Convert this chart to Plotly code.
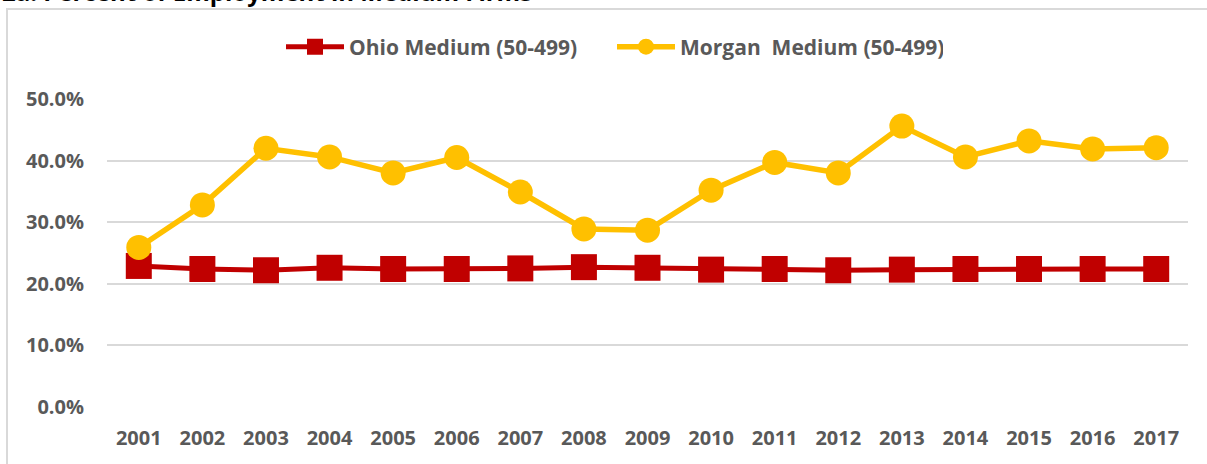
import plotly.graph_objects as go

years = [str(y) for y in range(2001, 2018)]
ohio = [22.9, 22.4, 22.2, 22.6, 22.4, 22.4, 22.5, 22.7, 22.6, 22.3, 22.4, 22.2, 22.3, 22.4, 22.4, 22.4, 22.4]
morgan = [25.9, 32.8, 42.0, 40.6, 38.0, 40.5, 34.9, 28.9, 28.7, 35.2, 39.7, 38.0, 45.6, 40.6, 43.2, 41.9, 42.1]
ohio_frac = [v / 100 for v in ohio]
morgan_frac = [v / 100 for v in morgan]
yticks = [0, 0.1, 0.2, 0.3, 0.4, 0.5]
title = "2a: Percent of Employment in Medium Firms"

RED = "#C00000"
GOLD = "#FFC000"
GREY = "#595959"
GRID = "#D9D9D9"
FONT = "Open Sans"

W, H = 1207, 464
L, R, T, B = 107, 19, 99, 57
pw, ph = W - L - R, H - T - B

def px_x(p):
    return (p - L) / pw

def px_y(p):
    return 1 - (p - T) / ph

fig = go.Figure()
fig.add_trace(go.Scatter(
    x=years, y=ohio_frac, name="Ohio Medium (50-499)", mode="lines+markers",
    line=dict(color=RED, width=5),
    marker=dict(symbol="square", size=26, color=RED),
))
fig.add_trace(go.Scatter(
    x=years, y=morgan_frac, name="Morgan  Medium (50-499)", mode="lines+markers",
    line=dict(color=GOLD, width=5.5),
    marker=dict(symbol="circle", size=25, color=GOLD),
))

fig.update_layout(
    width=W, height=H,
    margin=dict(l=L, r=R, t=T, b=B, pad=0),
    paper_bgcolor="white", plot_bgcolor="white",
    font=dict(family=FONT, color=GREY, size=20),
    showlegend=True,
    legend=dict(
        orientation="h", x=px_x(281), xanchor="left", y=px_y(47), yanchor="middle",
        font=dict(family=FONT, size=21, color=GREY, weight="bold"),
        itemwidth=58, entrywidth=258, entrywidthmode="pixels", traceorder="normal",
        bgcolor="rgba(0,0,0,0)",
    ),
    xaxis=dict(
        type="category", range=[-0.5, 16.5], showgrid=False, showline=False,
        zeroline=False, ticks="", ticklabelstandoff=17,
        tickfont=dict(family=FONT, size=20, color=GREY, weight="bold"),
    ),
    yaxis=dict(
        range=[0, 0.5], tickvals=yticks, tickformat=".1%", showgrid=True,
        gridcolor=GRID, gridwidth=2, zeroline=False, showline=False, ticks="",
        ticklabelstandoff=22,
        tickfont=dict(family=FONT, size=20, color=GREY, weight="bold"),
    ),
    shapes=[dict(
        type="rect", xref="paper", yref="paper",
        x0=px_x(7), x1=px_x(1215), y0=px_y(480), y1=px_y(9),
        line=dict(color=GRID, width=2), fillcolor="rgba(0,0,0,0)", layer="below",
    )],
    annotations=[dict(
        text=title, xref="paper", yref="paper", x=px_x(0), y=px_y(10),
        xanchor="left", yanchor="bottom", showarrow=False,
        font=dict(family=FONT, size=24, color="black", weight="bold"),
    )],
)

fig.write_html(
    "out.html",
    config={"displayModeBar": False},
    post_script="document.body.style.margin='0';document.body.style.padding='0';",
)
